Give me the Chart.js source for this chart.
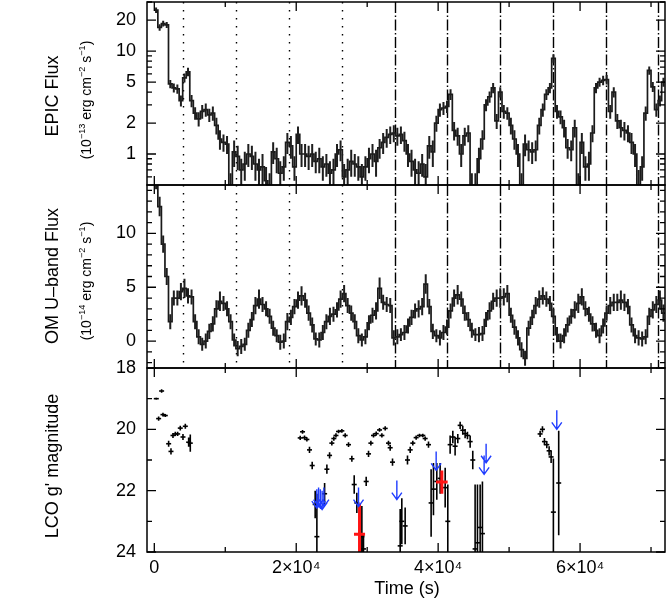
<!DOCTYPE html>
<html>
<head>
<meta charset="utf-8">
<script src="https://cdn.jsdelivr.net/npm/chart.js@4.4.0/dist/chart.umd.min.js"></script>
<style>
  body { margin: 0; background: #fff; width: 667px; height: 600px; position: relative; overflow: hidden;
         font-family: "Liberation Sans", Arial, sans-serif; color: #000; }
  canvas { position: absolute; left: 0; }
  .lab { position: absolute; white-space: nowrap; font-size: 18px; transform: translate(-50%, -50%) rotate(-90deg); }
  .sub { font-size: 14px; }
  sup { font-size: 65%; vertical-align: super; line-height: 0; }
</style>
</head>
<body>
<canvas id="epicChart" width="667" height="190" style="top:0px"></canvas>
<canvas id="omChart" width="667" height="193" style="top:180px"></canvas>
<canvas id="lcoChart" width="667" height="245" style="top:355px"></canvas>

<div class="lab" style="left:52px;top:96px">EPIC Flux</div>
<div class="lab sub" style="left:86px;top:100px">(10<sup>−13</sup> erg cm<sup>−2</sup> s<sup>−1</sup>)</div>
<div class="lab" style="left:52px;top:276px">OM U–band Flux</div>
<div class="lab sub" style="left:86px;top:281px">(10<sup>−14</sup> erg cm<sup>−2</sup> s<sup>−1</sup>)</div>
<div class="lab" style="left:52px;top:466px">LCO g' magnitude</div>
<div style="position:absolute;left:407px;top:588px;transform:translate(-50%,-50%);font-size:18px;white-space:nowrap">Time (s)</div>

<script>
// 500 s bins starting at t = 0
const binWidth = 500;

const epicFlux = [
  25, 17, 18.5, 18, 4.8, 4.4, 4.3, 3.3, 5.5, 6.3, 3.3, 2.5,
  2.2, 2.6, 2.7, 2.4, 2.5, 1.9, 1.4, 1.3, 1.25, 0.45, 1.05, 0.95,
  0.7, 0.8, 1.0, 0.95, 0.8, 0.7, 0.75, 0.55, 0.45, 1.05, 0.9, 0.65,
  0.75, 1.3, 1.2, 0.75, 1.55, 1.0, 1.0, 0.95, 1.0, 0.85, 0.9, 0.75,
  0.8, 0.65, 0.7, 1.0, 1.1, 0.6, 0.7, 0.85, 0.8, 0.75, 0.6, 0.75,
  0.9, 1.0, 0.85, 1.15, 1.3, 1.45, 1.55, 1.6, 1.5, 1.55, 1.35, 1.0,
  0.85, 0.7, 0.65, 0.8, 0.6, 1.2, 1.05, 2.0, 2.7, 2.8, 2.9, 3.8,
  1.7, 1.5, 1.0, 1.5, 1.6, 0.45, 0.45, 0.9, 1.4, 3.0, 3.6, 4.4,
  2.1, 4.0, 2.6, 2.5, 1.9, 1.4, 1.0, 0.45, 1.25, 1.1, 1.05, 1.1,
  1.9, 2.7, 3.8, 4.4, 8.5, 2.6, 2.3, 1.8, 1.15, 1.1, 1.8, 0.45,
  1.3, 0.75, 0.8, 1.6, 4.4, 5.0, 5.2, 5.3, 2.6, 4.0, 2.1, 1.8,
  1.7, 1.6, 1.3, 1.0, 0.5, 0.75, 2.5, 6.5, 4.5, 2.7, 3.3, 5.0
];
const epicErr = [
  1.6, 1.2, 1.2, 1.2, 0.45, 0.45, 0.45, 0.4, 0.55, 0.6, 0.45, 0.35,
  0.35, 0.4, 0.4, 0.35, 0.4, 0.35, 0.3, 0.25, 0.25, 0.2, 0.3, 0.25,
  0.2, 0.25, 0.25, 0.25, 0.25, 0.2, 0.25, 0.2, 0.2, 0.25, 0.25, 0.2,
  0.2, 0.3, 0.3, 0.2, 0.3, 0.25, 0.25, 0.25, 0.25, 0.2, 0.25, 0.2,
  0.2, 0.2, 0.2, 0.25, 0.25, 0.2, 0.2, 0.25, 0.2, 0.2, 0.2, 0.2,
  0.25, 0.25, 0.25, 0.25, 0.3, 0.3, 0.3, 0.3, 0.3, 0.3, 0.3, 0.25,
  0.25, 0.2, 0.2, 0.2, 0.2, 0.3, 0.3, 0.35, 0.4, 0.4, 0.4, 0.45,
  0.35, 0.3, 0.25, 0.3, 0.3, 0.2, 0.2, 0.25, 0.3, 0.4, 0.45, 0.5,
  0.35, 0.45, 0.4, 0.35, 0.35, 0.3, 0.25, 0.2, 0.3, 0.25, 0.25, 0.25,
  0.35, 0.4, 0.45, 0.5, 0.8, 0.4, 0.35, 0.35, 0.25, 0.25, 0.35, 0.2,
  0.3, 0.2, 0.25, 0.3, 0.5, 0.5, 0.55, 0.55, 0.4, 0.45, 0.35, 0.35,
  0.35, 0.3, 0.3, 0.25, 0.2, 0.2, 0.4, 0.6, 0.5, 0.4, 0.4, 0.5
];

const omFlux = [
  15, 12.5, 9.0, 6.0, 1.8, 4.0, 4.0, 4.6, 4.9, 4.2, 4.1, 1.8,
  0.4, -0.3, 0.0, 0.9, 1.6, 3.0, 3.7, 3.5, 3.0, 1.8, 0.1, -0.7,
  -0.5, -0.3, 1.0, 2.0, 3.3, 3.9, 3.4, 3.0, 2.3, 1.2, 0.5, -0.1,
  0.0, 1.8, 2.2, 3.2, 3.8, 4.2, 3.8, 2.6, 1.5, 0.2, 0.1, 0.8,
  1.8, 2.3, 2.5, 2.9, 3.9, 4.4, 3.3, 2.6, 1.8, 0.5, 0.1, 0.4,
  1.7, 2.4, 2.8, 4.9, 3.6, 3.4, 3.3, 0.3, 0.4, 0.6, 0.8, 1.4,
  2.2, 2.8, 3.0, 3.2, 5.3, 3.2, 0.9, 0.5, 0.3, 0.8, 1.3, 2.8,
  4.0, 4.3, 3.9, 2.6, 2.0, 1.0, 0.6, 0.6, 0.7, 2.0, 2.8, 3.7,
  4.0, 4.0, 4.1, 4.4, 2.4, 1.3, 0.3, -0.8, -1.6, 1.2, 2.2, 3.3,
  3.9, 4.2, 3.9, 3.5, 2.3, 0.6, 0.0, 0.5, 1.5, 2.3, 2.9, 3.5,
  4.1, 3.0, 2.5, 1.6, 1.0, 0.5, 1.4, 2.6, 3.3, 3.6, 3.6, 3.8,
  3.6, 3.2, 1.5, 0.5, 0.3, 0.2, 0.4, 2.3, 2.9, 3.4, 3.8, 2.6
];
const omErr = [
  0.9, 0.9, 0.8, 0.8, 0.7, 0.7, 0.7, 0.8, 0.9, 0.7, 0.7, 0.7,
  0.7, 0.6, 0.7, 0.7, 0.7, 0.8, 0.9, 0.7, 0.7, 0.7, 0.6, 0.7,
  0.7, 0.6, 0.7, 0.7, 0.8, 0.9, 0.7, 0.7, 0.7, 0.7, 0.6, 0.7,
  0.7, 0.8, 0.7, 0.7, 0.8, 0.9, 0.7, 0.7, 0.7, 0.6, 0.7, 0.7,
  0.7, 0.8, 0.7, 0.7, 0.8, 0.8, 0.7, 0.7, 0.7, 0.7, 0.6, 0.7,
  0.7, 0.7, 0.8, 1.0, 0.7, 0.7, 0.7, 0.7, 0.7, 0.6, 0.7, 0.7,
  0.7, 0.7, 0.8, 0.8, 0.9, 0.7, 0.7, 0.6, 0.7, 0.7, 0.7, 0.7,
  0.8, 0.9, 0.7, 0.7, 0.7, 0.7, 0.6, 0.7, 0.7, 0.7, 0.8, 0.8,
  0.8, 0.9, 0.8, 0.8, 0.7, 0.7, 0.7, 0.7, 0.7, 0.7, 0.7, 0.8,
  0.8, 0.8, 0.7, 0.7, 0.7, 0.7, 0.7, 0.7, 0.7, 0.7, 0.8, 0.9,
  0.8, 0.7, 0.7, 0.7, 0.7, 0.7, 0.7, 0.7, 0.8, 0.8, 0.8, 0.9,
  0.8, 0.7, 0.7, 0.7, 0.7, 0.7, 0.7, 0.8, 0.8, 0.8, 0.9, 0.8
];

// LCO photometry
const lcoTime = [
  280, 610, 1030, 1220, 1550, 2020, 2350, 2630, 2960, 3290, 3660, 4040, 4370, 4840, 5070,
  20560, 20890, 21170, 21500, 21870, 22250, 22670, 22910, 24000, 24320, 24700, 25020, 25300, 25600, 25960, 26430, 26900, 27370, 27840, 28170, 28540, 29250, 29480, 29860,
  30190, 30520, 30890, 31270, 31740, 32070, 32540, 33000, 33240, 33570, 34650, 34880, 35350,
  35680, 36060, 36430, 36900, 37370, 37840, 38170, 38640, 39010, 39340, 39810, 40280, 40990, 41360,
  41690, 42070, 42390, 42770, 43100, 43470, 43800, 44130, 44510, 44880, 45210, 45540, 45920, 46240,
  54370, 54700, 54980, 55310, 55640, 55920, 56240, 56990
];
const lcoMag = [
  19.0, 19.65, 18.75, 19.52, 19.55, 20.47, 20.72, 20.2, 20.15, 20.15, 19.96, 20.25, 19.9, 20.42, 20.45,
  20.28, 20.08, 20.27, 20.33, 20.67, 21.18, 22.45, 23.5, 22.1, 21.3, 20.85, 20.45, 20.3, 20.2, 20.07, 20.05, 20.2, 20.5, 20.96, 21.8, 22.4, 23.5, 23.9, 21.7,
  20.8, 20.45, 20.2, 20.14, 20.02, 20.2, 19.97, 20.45, 20.6, 21.07, 23.8, 23.0, 23.15,
  21.0, 20.67, 20.45, 20.27, 20.2, 20.2, 20.3, 20.5, 22.4, 21.95, 21.7, 21.6, 21.9, 23.0,
  20.5, 20.25, 20.55, 20.3, 19.87, 20.03, 20.14, 20.2, 20.4, 21.0, 23.9, 23.7, 23.2, 23.4,
  20.15, 20.0, 20.4, 20.5, 20.7, 20.9, 22.7, 21.75
];
const lcoErr = [
  0.03, 0.07, 0.06, 0.06, 0.05, 0.1, 0.1, 0.08, 0.07, 0.07, 0.08, 0.1, 0.08, 0.15, 0.28,
  0.07, 0.06, 0.07, 0.07, 0.1, 0.12, 0.45, 1.4, 0.35, 0.15, 0.1, 0.08, 0.07, 0.07, 0.06, 0.06, 0.07, 0.08, 0.1, 0.3, 0.33, 1.0, 0.5, 0.15,
  0.1, 0.08, 0.07, 0.07, 0.06, 0.07, 0.07, 0.08, 0.1, 0.12, 1.2, 0.75, 0.6,
  0.15, 0.1, 0.08, 0.07, 0.06, 0.06, 0.07, 0.1, 1.1, 0.85, 0.6, 0.5, 0.65, 1.2,
  0.3, 0.2, 0.3, 0.15, 0.12, 0.15, 0.15, 0.12, 0.2, 0.3, 2.1, 1.9, 1.4, 1.7,
  0.1, 0.1, 0.12, 0.12, 0.15, 0.2, 1.75, 1.7
];

// upper limits (blue arrows)
const limitTime = [22900, 23150, 23400, 23650, 23900, 28780, 34180, 39720, 46480, 46760, 56720];
const limitMag = [21.95, 21.9, 21.95, 22.0, 21.9, 21.9, 21.67, 20.72, 20.85, 20.47, 19.38];

// red stacked points
const redTime = [28920, 40520];
const redTimeErr = [780, 820];
const redMag = [23.42, 21.72];
const redErr = [1.0, 0.38];

// vertical reference lines
const phaseTime = [4040, 11500, 18920, 26430, 33850, 41270, 48730, 56150, 63620, 71030];
const phaseStyle = ['dot', 'dot', 'dot', 'dot', 'dashdot', 'dashdot', 'dashdot', 'dashdot', 'dashdot', 'dashdot'];

const timeMin = -1030, timeMax = 71970;
const timeTicks = [0, 20000, 40000, 60000];
const timeTickLabels = ['0', '2×10⁴', '4×10⁴', '6×10⁴'];
const timeMinor = [10000, 30000, 50000, 70000];

const epicTicks = [1, 2, 5, 10, 20];
const epicMinor = [0.6, 0.7, 0.8, 0.9, 3, 4, 6, 7, 8, 9, 30];
const omTicks = [0, 5, 10];
const omMinor = [-2, -1, 1, 2, 3, 4, 6, 7, 8, 9, 11, 12, 13, 14];
const magTicks = [18, 20, 22, 24];
const magMinor = [19, 21, 23];

const panels = {
  epic: { phase: true, bins: { vals: epicFlux, errs: epicErr, log: true }, yMajor: epicTicks, yMinor: epicMinor },
  om:   { phase: true, bins: { vals: omFlux, errs: omErr, log: false }, yMajor: omTicks, yMinor: omMinor },
  lco:  { phase: false, lco: true, yMajor: magTicks, yMinor: magMinor }
};

Chart.defaults.font.family = '"Liberation Sans", Arial, sans-serif';
Chart.defaults.color = '#000';

const framePlugin = {
  id: 'frame',
  beforeDatasetsDraw(chart, args, opts) {
    const p = panels[opts.panel];
    if (!p || !p.phase) return;
    const { ctx, chartArea: a } = chart;
    const x = chart.scales.x;
    ctx.save();
    ctx.strokeStyle = '#000';
    ctx.lineWidth = 1.4;
    phaseTime.forEach((t, i) => {
      const px = Math.round(x.getPixelForValue(t)) + 0.5;
      ctx.setLineDash(phaseStyle[i] === 'dot' ? [1.5, 6.5] : [11, 2.5, 1.5, 2.5]);
      ctx.beginPath();
      ctx.moveTo(px, a.top);
      ctx.lineTo(px, a.bottom);
      ctx.stroke();
    });
    ctx.restore();
  },
  afterDatasetsDraw(chart, args, opts) {
    const p = panels[opts.panel];
    if (!p) return;
    const { ctx, chartArea: a } = chart;
    const x = chart.scales.x, y = chart.scales.y;
    ctx.save();
    ctx.beginPath();
    ctx.rect(a.left, a.top, a.right - a.left, a.bottom - a.top);
    ctx.clip();

    if (p.bins) {
      ctx.strokeStyle = '#1e1e1e';
      ctx.lineWidth = 2;
      ctx.beginPath();
      p.bins.vals.forEach((v, i) => {
        const e = p.bins.errs[i];
        const px = x.getPixelForValue((i + 0.5) * binWidth);
        const lo = p.bins.log ? Math.max(v - e, 0.01) : v - e;
        ctx.moveTo(px, y.getPixelForValue(lo));
        ctx.lineTo(px, y.getPixelForValue(v + e));
      });
      ctx.stroke();
    }

    if (p.lco) {
      ctx.strokeStyle = '#000';
      ctx.lineWidth = 1.6;
      ctx.beginPath();
      lcoTime.forEach((t, i) => {
        const px = x.getPixelForValue(t);
        ctx.moveTo(px, y.getPixelForValue(lcoMag[i] - lcoErr[i]));
        ctx.lineTo(px, y.getPixelForValue(lcoMag[i] + lcoErr[i]));
      });
      ctx.stroke();

      ctx.strokeStyle = '#ff1414';
      ctx.lineWidth = 3;
      ctx.beginPath();
      redTime.forEach((t, i) => {
        const px = x.getPixelForValue(t), py = y.getPixelForValue(redMag[i]);
        ctx.moveTo(px, y.getPixelForValue(redMag[i] - redErr[i]));
        ctx.lineTo(px, y.getPixelForValue(redMag[i] + redErr[i]));
        ctx.moveTo(x.getPixelForValue(t - redTimeErr[i]), py);
        ctx.lineTo(x.getPixelForValue(t + redTimeErr[i]), py);
      });
      ctx.stroke();

      ctx.strokeStyle = '#1f3cff';
      ctx.lineWidth = 1.4;
      ctx.beginPath();
      limitTime.forEach((t, i) => {
        const px = x.getPixelForValue(t), py = y.getPixelForValue(limitMag[i]);
        ctx.moveTo(px, py);
        ctx.lineTo(px, py + 19);
        ctx.moveTo(px - 5, py + 12);
        ctx.lineTo(px, py + 19);
        ctx.lineTo(px + 5, py + 12);
      });
      ctx.stroke();
    }
    ctx.restore();

    // frame with inward ticks on all sides
    ctx.save();
    ctx.strokeStyle = '#000';
    ctx.lineWidth = 1.5;
    ctx.strokeRect(a.left, a.top, a.right - a.left, a.bottom - a.top);
    ctx.lineWidth = 1.3;
    ctx.beginPath();
    const xt = (vals, len) => vals.forEach(v => {
      const px = x.getPixelForValue(v);
      ctx.moveTo(px, a.bottom); ctx.lineTo(px, a.bottom - len);
      ctx.moveTo(px, a.top); ctx.lineTo(px, a.top + len);
    });
    const yt = (vals, len) => vals.forEach(v => {
      const py = y.getPixelForValue(v);
      if (py < a.top - 0.5 || py > a.bottom + 0.5) return;
      ctx.moveTo(a.left, py); ctx.lineTo(a.left + len, py);
      ctx.moveTo(a.right, py); ctx.lineTo(a.right - len, py);
    });
    xt(timeTicks, 9);
    xt(timeMinor, 5);
    yt(p.yMajor, 9);
    yt(p.yMinor, 5);
    ctx.stroke();
    ctx.restore();
  }
};
Chart.register(framePlugin);

function timeScale(show) {
  const s = {
    type: 'linear', min: timeMin, max: timeMax, display: show,
    grid: { display: false, drawTicks: false }, border: { display: false },
    afterBuildTicks: sc => { sc.ticks = timeTicks.map(v => ({ value: v })); },
    ticks: { autoSkip: false, maxRotation: 0, padding: 5, font: { size: 18 }, callback: (v, i) => timeTickLabels[i] }
  };
  if (show) s.afterFit = sc => { sc.height = 48; sc.paddingLeft = 0; sc.paddingRight = 0; };
  return s;
}

function valueScale(type, min, max, tickVals, reverse) {
  return {
    type: type, min: min, max: max, reverse: reverse,
    grid: { display: false, drawTicks: false }, border: { display: false },
    afterFit: sc => { sc.width = 147; sc.paddingTop = 0; sc.paddingBottom = 0; },
    afterBuildTicks: sc => { sc.ticks = tickVals.map(v => ({ value: v })); },
    ticks: { autoSkip: false, padding: 11, font: { size: 18 }, callback: v => String(v) }
  };
}

function histPoints(vals) {
  const pts = vals.map((v, i) => ({ x: i * binWidth, y: v }));
  pts.push({ x: vals.length * binWidth, y: vals[vals.length - 1] });
  return pts;
}

function baseOptions(panel, padding, xShow, yScale) {
  return {
    responsive: false,
    animation: false,
    devicePixelRatio: 1,
    layout: { padding: padding, autoPadding: false },
    scales: { x: timeScale(xShow), y: yScale },
    plugins: { legend: { display: false }, tooltip: { enabled: false }, frame: { panel: panel } }
  };
}

new Chart(document.getElementById('epicChart'), {
  type: 'line',
  data: {
    datasets: [{
      data: histPoints(epicFlux),
      stepped: true,
      borderColor: '#1a1a1a',
      borderWidth: 1.7,
      pointRadius: 0,
      fill: false,
      clip: 0
    }]
  },
  options: baseOptions('epic', { left: 0, right: 2, top: 2, bottom: 5 }, false,
    valueScale('logarithmic', 0.5, 30, epicTicks, false))
});

new Chart(document.getElementById('omChart'), {
  type: 'line',
  data: {
    datasets: [{
      data: histPoints(omFlux),
      stepped: true,
      borderColor: '#1a1a1a',
      borderWidth: 1.7,
      pointRadius: 0,
      fill: false,
      clip: 0
    }]
  },
  options: baseOptions('om', { left: 0, right: 2, top: 5, bottom: 5 }, false,
    valueScale('linear', -2.5, 14.5, omTicks, false))
});

new Chart(document.getElementById('lcoChart'), {
  type: 'scatter',
  data: {
    datasets: [{
      data: lcoTime.map((t, i) => ({ x: t, y: lcoMag[i] })),
      pointStyle: 'line',
      pointRadius: 2.5,
      borderColor: '#000',
      borderWidth: 1.6,
      clip: 0
    }]
  },
  options: baseOptions('lco', { left: 0, right: 2, top: 13, bottom: 0 }, true,
    valueScale('linear', 18, 24, magTicks, true))
});
</script>
</body>
</html>
